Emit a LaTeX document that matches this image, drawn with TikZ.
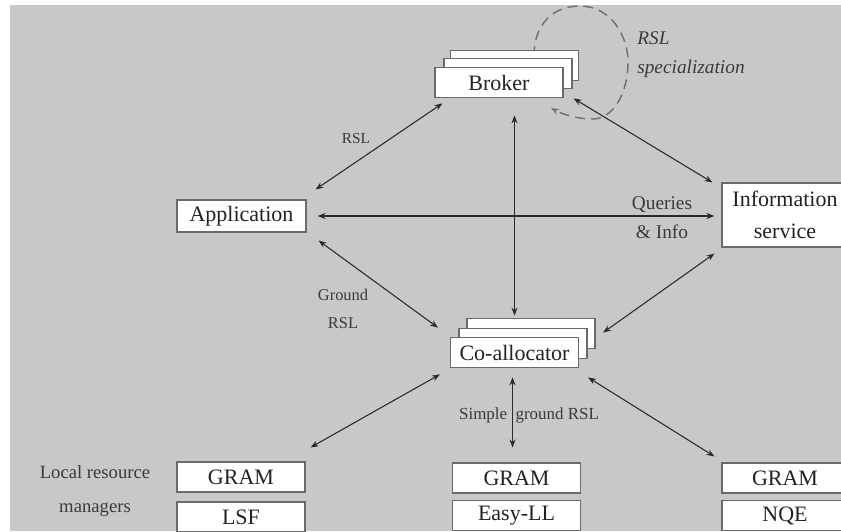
\documentclass[tikz,border=0pt]{standalone}
\usepackage{fontspec}
\setmainfont{Liberation Serif}
\usetikzlibrary{arrows.meta,calc}
\definecolor{bg}{HTML}{C8C8C8}
\definecolor{boxline}{HTML}{6A6A6A}
\definecolor{txt}{HTML}{222222}
\definecolor{txtlab}{HTML}{3A3A3A}
\definecolor{wire}{HTML}{2A2A2A}
\definecolor{loopc}{HTML}{727272}
\begin{document}
\begin{tikzpicture}[x=0.75pt,y=-0.75pt,
  box/.style={draw=boxline, fill=white, line width=0.8pt, inner sep=0pt,
    minimum width=96pt, minimum height=23pt, text=txt,
    font=\fontsize{16.5}{19}\selectfont},
  lab/.style={text=txtlab, inner sep=0pt},
  wirearr/.style={draw=wire, line width=0.8pt,
    {Stealth[length=6pt,width=4.5pt]}-{Stealth[length=6pt,width=4.5pt]}},
  loopline/.style={draw=loopc, line width=1.1pt, dash pattern=on 7.5pt off 4.5pt,
    -{Stealth[length=6pt,width=4.5pt]}}
]
\useasboundingbox (0,0) rectangle (841,531);
\clip (0,0) rectangle (841,531);
\fill[white] (0,0) rectangle (841,531);
\fill[bg] (10,5) rectangle (841,531);

% RSL specialization loop (behind the broker boxes)
\coordinate (loopstart) at (534,56);
\coordinate (loopend) at (551,108);
\draw[loopline] (loopstart) .. controls (534,22) and (555,6) .. (580,6)
  .. controls (610,6) and (628,35) .. (628,62)
  .. controls (628,95) and (612,119) .. (593,119)
  .. controls (576,119) and (562,114) .. (loopend);

% Broker stack
\node[box] (brkC) at (514.5,65.5) {};
\node[box] (brkB) at (508,73.5) {};
\node[box] (brk) at (499,82.5) {Broker};

% Co-allocator stack
\node[box] (coC) at (531,333.5) {};
\node[box] (coB) at (523,343.5) {};
\node[box] (co) at (514.5,352.5) {Co-allocator};

% Application and Information service
\node[box, minimum width=96.75pt, minimum height=24pt] (app) at (241.5,216) {Application};
\node[box, minimum width=94.5pt, minimum height=48pt, align=center,
  font=\fontsize{16.5}{24}\selectfont] (info) at (785,215) {Information\\service};

% Local resource managers
\node[box, minimum height=22.5pt] (gram1) at (241,477) {GRAM};
\node[box, minimum height=22.5pt] (lsf) at (241,517) {LSF};
\node[box, minimum height=22.5pt] (gram2) at (516.5,478) {GRAM};
\node[box, minimum height=22.5pt] (easy) at (516.5,515.5) {Easy-LL};
\node[box, minimum width=94.5pt, minimum height=22.5pt] (gram3) at (785,478) {GRAM};
\node[box, minimum width=94.5pt, minimum height=22.5pt] (nqe) at (785,515.5) {NQE};

% Labels
\node[lab, font=\fontsize{11.5}{14}\selectfont] (lrsl) at (356,138) {RSL};
\node[lab, font=\fontsize{12.3}{21}\selectfont, align=center] (lground) at (343,309) {Ground\\RSL};
\node[lab, font=\fontsize{14.5}{21.75}\selectfont, align=center] (lquery) at (662,217.5) {Queries\\\& Info};
\node[lab, font=\fontsize{12.7}{15}\selectfont] (lsimple) at (529,415) {Simple\hspace{0.5em}ground RSL};
\node[lab, font=\fontsize{14.5}{21.75}\selectfont\itshape, align=left, anchor=west] (lspec) at (637,54.5) {RSL\\specialization};
\node[lab, font=\fontsize{14}{25}\selectfont, align=center] (llocal) at (95,491) {Local resource\\managers};

% Connectors
\draw[wirearr] ([shift={(9,-10)}]app.north east) -- ([shift={(8,5)}]brk.south west);
\draw[wirearr] ($(brk.south -| co.north)+(0,17)$) -- ([shift={(0,-21)}]co.north);
\draw[wirearr, line width=1.3pt] ([shift={(11,0)}]app.east) -- ([shift={(-7,1)}]info.west);
\draw[wirearr] ([shift={(12,8)}]app.south east) -- ([shift={(-12,-9)}]co.north west);
\draw[wirearr] ([shift={(10,0)}]brk.south east) -- ([shift={(-9,0)}]info.north west);
\draw[wirearr] ([shift={(-7,6)}]info.south west) -- ([shift={(24,-4)}]co.north east);
\draw[wirearr] ([shift={(-10,6)}]co.south west) -- ([shift={(5,-14)}]gram1.north east);
\draw[wirearr] ([shift={(-2,9)}]co.south) -- ([shift={(-4,-15)}]gram2.north);
\draw[wirearr] ([shift={(9,9)}]co.south east) -- ([shift={(-7,-6)}]gram3.north west);
\end{tikzpicture}
\end{document}
